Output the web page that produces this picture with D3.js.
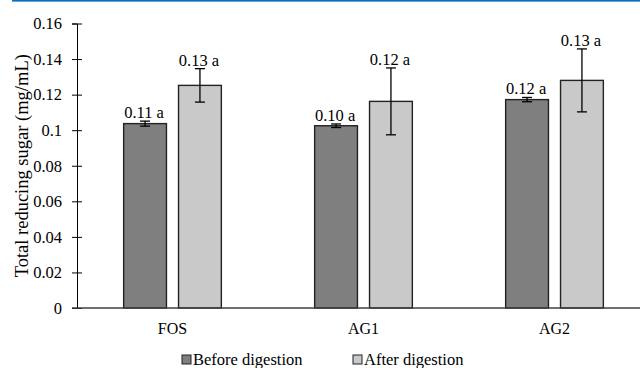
<!DOCTYPE html>
<html>
<head>
<meta charset="utf-8">
<script src="https://cdn.jsdelivr.net/npm/d3@7"></script>
<style>
  body { margin: 0; background: #fff; }
  svg { display: block; }
  svg text { font-family: "Liberation Serif", "DejaVu Serif", serif; }
</style>
</head>
<body>
<div id="chart"></div>
<script>
// Chart data
const categories = ['FOS', 'AG1', 'AG2'];
const seriesNames = ['Before digestion', 'After digestion'];
const beforeValues = [0.1037, 0.1025, 0.1172];
const beforeErrors = [0.0014, 0.0010, 0.0012];
const afterValues = [0.1252, 0.1162, 0.1280];
const afterErrors = [0.0094, 0.0188, 0.0177];
const beforeLabels = ['0.11 a', '0.10 a', '0.12 a'];
const afterLabels = ['0.13 a', '0.12 a', '0.13 a'];
const yTicks = [0, 0.02, 0.04, 0.06, 0.08, 0.1, 0.12, 0.14, 0.16];

const width = 640;
const height = 368;
const colors = ['#7f7f7f', '#c9c9c9'];

const svg = d3.select('#chart')
    .append('svg')
    .attr('width', width)
    .attr('height', height);

// Blue rule at the top
svg.append('rect')
    .attr('x', 12)
    .attr('y', 0)
    .attr('width', width - 12)
    .attr('height', 1.6)
    .attr('fill', '#0a70be');

// Scales
const x = d3.scaleBand()
    .domain(categories)
    .range([77, 650])
    .padding(0);

const xInner = d3.scaleBand()
    .domain(seriesNames)
    .range([0, x.bandwidth()])
    .paddingInner(0.22)
    .paddingOuter(0.85);

const y = d3.scaleLinear()
    .domain([0, 0.16])
    .range([308, 23.5]);

// Build rows from the arrays
const rows = [];
categories.forEach(function(cat, i) {
    rows.push({ cat: cat, series: seriesNames[0], value: beforeValues[i], err: beforeErrors[i], label: beforeLabels[i], color: colors[0] });
    rows.push({ cat: cat, series: seriesNames[1], value: afterValues[i], err: afterErrors[i], label: afterLabels[i], color: colors[1] });
});

// Y axis
const yAxis = svg.append('g')
    .attr('transform', 'translate(77,0)')
    .call(d3.axisLeft(y)
        .tickValues(yTicks)
        .tickSize(5)
        .tickPadding(10)
        .tickFormat(function(d) { return String(+d.toFixed(2)); }));
yAxis.attr('font-family', null).attr('font-size', null);
yAxis.select('.domain').attr('stroke', '#000').attr('stroke-width', 1);
yAxis.selectAll('.tick line').attr('x1', 5).attr('x2', -5).attr('stroke', '#000');
yAxis.selectAll('.tick text')
    .style('font-size', '16.5px')
    .attr('fill', '#000');

// Y axis title
svg.append('text')
    .attr('transform', 'translate(28,' + ((y(0) + y(0.16)) / 2) + ') rotate(-90)')
    .attr('text-anchor', 'middle')
    .style('font-size', '18.5px')
    .attr('fill', '#000')
    .text('Total reducing sugar (mg/mL)');

// Bars
svg.selectAll('.bar')
    .data(rows)
    .enter()
    .append('rect')
    .attr('class', 'bar')
    .attr('x', function(d) { return x(d.cat) + xInner(d.series); })
    .attr('y', function(d) { return y(d.value); })
    .attr('width', xInner.bandwidth())
    .attr('height', function(d) { return y(0) - y(d.value); })
    .attr('fill', function(d) { return d.color; })
    .attr('stroke', '#222')
    .attr('stroke-width', 1.4);

// X axis line
svg.append('line')
    .attr('x1', 72)
    .attr('x2', width)
    .attr('y1', y(0))
    .attr('y2', y(0))
    .attr('stroke', '#404040')
    .attr('stroke-width', 1.6);

// Error bars
const errG = svg.selectAll('.err')
    .data(rows)
    .enter()
    .append('g')
    .attr('class', 'err')
    .attr('transform', function(d) {
        return 'translate(' + (x(d.cat) + xInner(d.series) + xInner.bandwidth() / 2) + ',0)';
    })
    .attr('stroke', '#000')
    .attr('stroke-width', 1.3);

errG.append('line')
    .attr('y1', function(d) { return y(d.value - d.err); })
    .attr('y2', function(d) { return y(d.value + d.err); });
errG.append('line')
    .attr('x1', -5).attr('x2', 5)
    .attr('y1', function(d) { return y(d.value + d.err); })
    .attr('y2', function(d) { return y(d.value + d.err); });
errG.append('line')
    .attr('x1', -5).attr('x2', 5)
    .attr('y1', function(d) { return y(d.value - d.err); })
    .attr('y2', function(d) { return y(d.value - d.err); });

// Value labels
svg.selectAll('.val')
    .data(rows)
    .enter()
    .append('text')
    .attr('class', 'val')
    .attr('x', function(d) { return x(d.cat) + xInner(d.series) + xInner.bandwidth() / 2 - 1; })
    .attr('y', function(d) { return y(d.value + d.err) - 3; })
    .attr('text-anchor', 'middle')
    .style('font-size', '16.5px')
    .attr('fill', '#000')
    .text(function(d) { return d.label; });

// Category labels
svg.selectAll('.cat')
    .data(categories)
    .enter()
    .append('text')
    .attr('class', 'cat')
    .attr('x', function(d) { return x(d) + x.bandwidth() / 2; })
    .attr('y', 334)
    .attr('text-anchor', 'middle')
    .style('font-size', '16px')
    .attr('fill', '#000')
    .text(function(d) { return d; });

// Legend
const legendX = [182, 353];
seriesNames.forEach(function(name, i) {
    const g = svg.append('g')
        .attr('transform', 'translate(' + legendX[i] + ',355)');
    g.append('rect')
        .attr('width', 9)
        .attr('height', 9)
        .attr('fill', colors[i])
        .attr('stroke', '#222')
        .attr('stroke-width', 1);
    g.append('text')
        .attr('x', 11)
        .attr('y', 10)
        .style('font-size', '16.5px')
        .attr('fill', '#000')
        .text(name);
});
</script>
</body>
</html>
